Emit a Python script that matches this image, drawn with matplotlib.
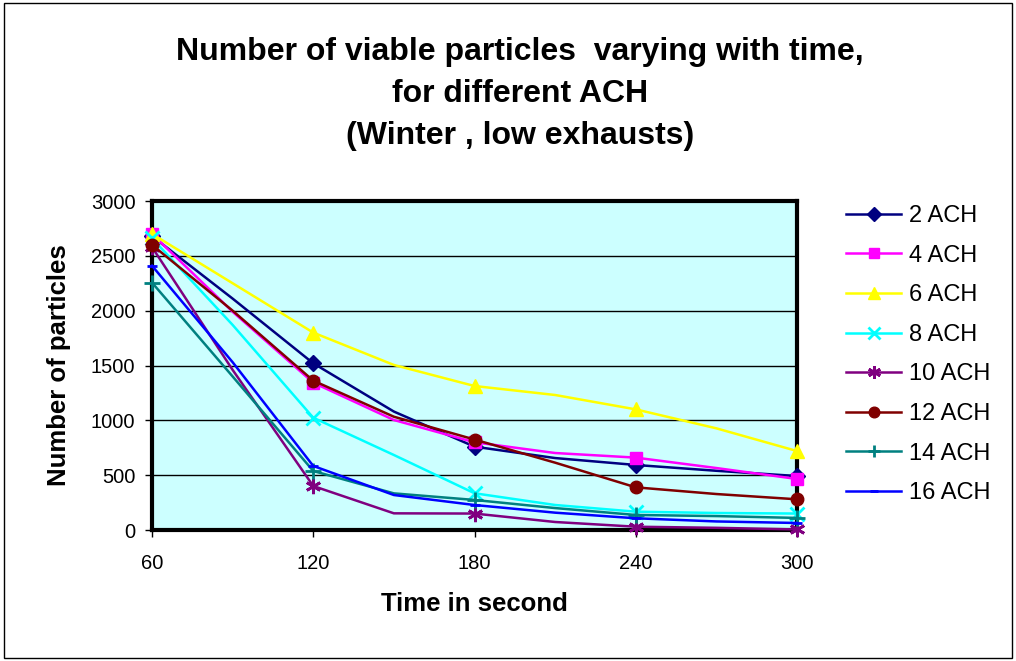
import matplotlib.pyplot as plt
from matplotlib.patches import Rectangle

plt.rcParams['font.family'] = ['Liberation Sans', 'DejaVu Sans']

# sampling times (s); markers sit on the whole-minute readings
time = [60, 90, 120, 150, 180, 210, 240, 270, 300]

ach_2 = [2680, 2110, 1520, 1080, 760, 656, 593, 540, 492]
ach_4 = [2700, 1990, 1343, 1003, 800, 702, 660, 565, 465]
ach_6 = [2700, 2250, 1800, 1505, 1313, 1231, 1100, 927, 720]
ach_8 = [2660, 1870, 1024, 684, 335, 228, 167, 155, 150]
ach_10 = [2580, 1460, 401, 152, 150, 73, 30, 20, 5]
ach_12 = [2600, 2000, 1362, 1033, 825, 614, 389, 328, 280]
ach_14 = [2256, 1400, 538, 334, 274, 200, 137, 127, 110]
ach_16 = [2410, 1530, 584, 319, 228, 158, 107, 78, 64]

labels = ['2 ACH', '4 ACH', '6 ACH', '8 ACH', '10 ACH', '12 ACH', '14 ACH', '16 ACH']
series = [ach_2, ach_4, ach_6, ach_8, ach_10, ach_12, ach_14, ach_16]
colors = ['#000080', '#FF00FF', '#FFFF00', '#00FFFF', '#800080', '#800000', '#008080', '#0000FF']
markers = ['D', 's', '^', 'x', (6, 2, 0), 'o', '+', '_']
msizes = [8, 8, 10, 10, 11, 9, 11, 7]

fig = plt.figure(figsize=(10.16, 6.61), dpi=100)
ax = fig.add_axes([152 / 1016, 131 / 661, 645 / 1016, 329 / 661])
ax.set_facecolor('#CCFFFF')

for y, lab, c, m, ms in zip(series, labels, colors, markers, msizes):
    ax.plot(time, y, color=c, lw=1.8, marker=m, markersize=ms,
            markevery=[0, 2, 4, 6, 8], markeredgewidth=2 if m in ('x', '+', '_', (6, 2, 0)) else 1,
            label=lab, clip_on=False, zorder=3)

ax.set_xlim(60, 300)
ax.set_ylim(0, 3000)
ax.set_xticks([60, 120, 180, 240, 300])
ax.set_yticks(range(0, 3001, 500))
ax.yaxis.grid(True, color='black', lw=1)
ax.set_axisbelow(True)
for s in ax.spines.values():
    s.set_linewidth(3)
ax.tick_params(axis='both', labelsize=14.5, direction='out', length=5, width=1)
ax.tick_params(axis='x', pad=12)
ax.tick_params(axis='y', pad=7)

ax.set_xlabel('Time in second', fontsize=18.5, fontweight='bold', labelpad=14)
ax.set_ylabel('Number of particles', fontsize=18.5, fontweight='bold', labelpad=14)

fig.text(0.512, 0.944, 'Number of viable particles  varying with time,\nfor different ACH\n(Winter , low exhausts)',
         ha='center', va='top', fontsize=23, fontweight='bold', linespacing=1.52)

fig.legend(loc='upper left', bbox_to_anchor=(846 / 1016, 1 - 205 / 661), frameon=False,
           fontsize=17, handlelength=2.35, labelspacing=0.745, handletextpad=0.3,
           borderpad=0, borderaxespad=0, markerscale=0.85)

fig.patches.append(Rectangle((0.004, 0.005), 0.992, 0.99, transform=fig.transFigure,
                             fill=False, edgecolor='black', lw=1))

fig.savefig('out.png', dpi=100)
